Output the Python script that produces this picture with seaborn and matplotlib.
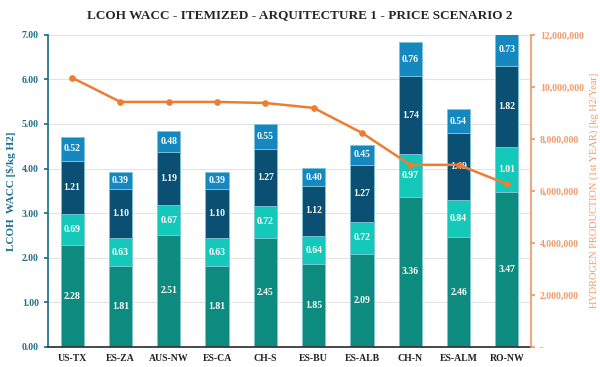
import numpy as np
import pandas as pd
import matplotlib
matplotlib.use("Agg")
import matplotlib.pyplot as plt
import matplotlib.ticker as mticker
import seaborn as sns

# data
sites = ["US-TX", "ES-ZA", "AUS-NW", "ES-CA", "CH-S", "ES-BU", "ES-ALB", "CH-N", "ES-ALM", "RO-NW"]
part1 = [2.28, 1.81, 2.51, 1.81, 2.45, 1.85, 2.09, 3.36, 2.46, 3.47]
part2 = [0.69, 0.63, 0.67, 0.63, 0.72, 0.64, 0.72, 0.97, 0.84, 1.01]
part3 = [1.21, 1.10, 1.19, 1.10, 1.27, 1.12, 1.27, 1.74, 1.49, 1.82]
part4 = [0.52, 0.39, 0.48, 0.39, 0.55, 0.40, 0.45, 0.76, 0.54, 0.73]
production = [10350000, 9420000, 9420000, 9420000, 9380000, 9190000, 8230000, 7000000, 7000000, 6260000]

colors = ["#0e8b7f", "#14c9b9", "#0b4f72", "#1588c0"]
blue_axis = "#1f6f8b"
orange = "#ed7d31"
orange_lbl = "#f09a6a"

sns.set_theme(style="white")
plt.rcParams["font.family"] = ["Liberation Serif", "DejaVu Serif"]
plt.rcParams["font.weight"] = "bold"

fig, ax = plt.subplots(figsize=(6, 3.67), dpi=100)
fig.subplots_adjust(left=0.08, right=0.885, top=0.905, bottom=0.055)

df = pd.DataFrame({"site": sites, "p1": part1, "p2": part2, "p3": part3, "p4": part4})
x = np.arange(len(sites))
bottom = np.zeros(len(sites))
for col, c in zip(["p1", "p2", "p3", "p4"], colors):
    vals = df[col].values
    ax.bar(x, vals, bottom=bottom, width=0.48, color=c, edgecolor="#7fc4d8", linewidth=0.6, zorder=2)
    for xi, b, v in zip(x, bottom, vals):
        ax.text(xi, b + v / 2, f"{v:.2f}", ha="center", va="center", color="white",
                fontsize=7, fontweight="bold", zorder=4)
    bottom += vals

ax.set_xlim(-0.5, len(sites) - 0.5)
ax.set_ylim(0, 7)
ax.yaxis.set_major_locator(mticker.MultipleLocator(1))
ax.yaxis.set_major_formatter(mticker.FormatStrFormatter("%.2f"))
ax.grid(axis="y", color="#e3e3e3", linewidth=0.8, zorder=0)
ax.set_axisbelow(True)
ax.set_xticks(x)
ax.set_xticklabels(sites)
ax.set_xticks(np.arange(len(sites) + 1) - 0.5, minor=True)
ax.tick_params(axis="x", which="major", length=0, labelsize=7, colors="#222222", pad=5)
ax.tick_params(axis="x", which="minor", length=4, direction="inout", color="#333333")
ax.tick_params(axis="y", labelsize=7, colors=blue_axis, length=3, direction="out", left=True)
ax.set_ylabel("LCOH  WACC [$/kg H2]", color=blue_axis, fontsize=8, fontweight="bold")
for lbl in ax.get_xticklabels() + ax.get_yticklabels():
    lbl.set_fontweight("bold")
for s in ["top", "right"]:
    ax.spines[s].set_visible(False)
ax.spines["left"].set_color(blue_axis)
ax.spines["bottom"].set_color("#333333")

ax2 = ax.twinx()
sns.lineplot(x=x, y=production, ax=ax2, color=orange, linewidth=1.8, marker="o",
             markersize=4, markeredgecolor=orange, zorder=5)
ax2.set_ylim(0, 12000000)
ax2.yaxis.set_major_locator(mticker.MultipleLocator(2000000))
ax2.yaxis.set_major_formatter(mticker.FuncFormatter(lambda v, p: "-" if v == 0 else f"{v:,.0f}"))
ax2.tick_params(axis="y", labelsize=7, colors=orange_lbl, length=3, direction="out", right=True)
ax2.set_ylabel("HYDROGEN PRODUCTION (1st YEAR) [kg H2/Year]", color=orange_lbl, fontsize=7.5,
               fontweight="normal")
for lbl in ax2.get_yticklabels():
    lbl.set_fontweight("bold")
for s in ["top", "left", "bottom"]:
    ax2.spines[s].set_visible(False)
ax2.spines["right"].set_visible(True)
ax2.spines["right"].set_color(orange_lbl)
ax2.grid(False)

fig.suptitle("LCOH WACC - ITEMIZED - ARQUITECTURE 1 - PRICE SCENARIO 2", fontsize=9.5,
             fontweight="bold", y=0.975, x=0.5)

fig.savefig("out.png", dpi=100)
